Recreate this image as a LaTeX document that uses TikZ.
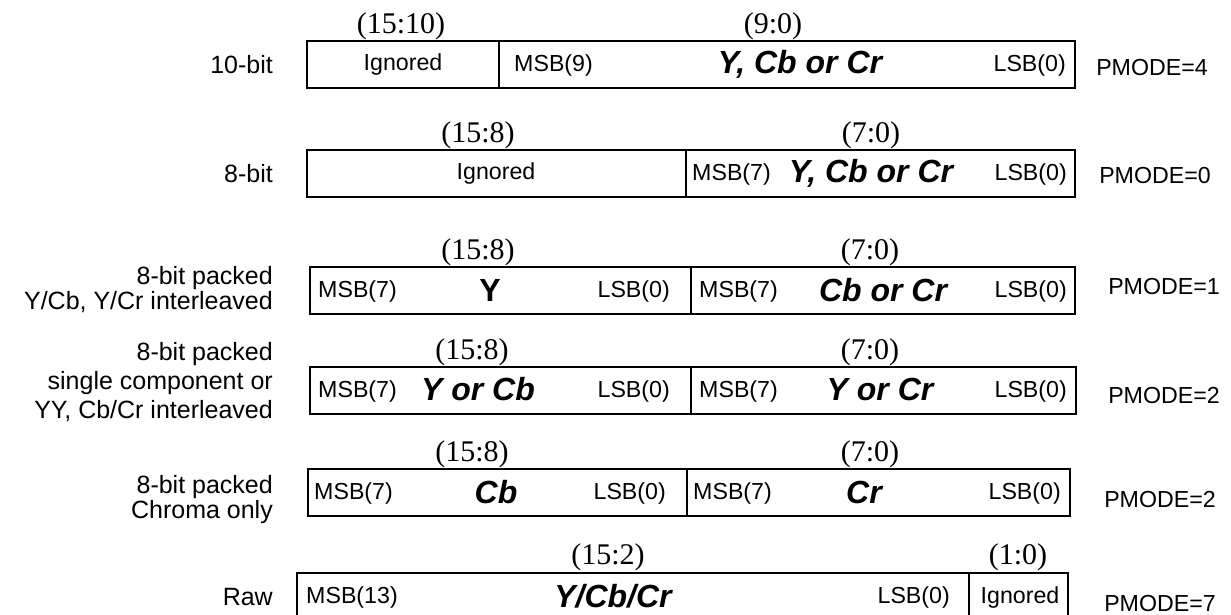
\documentclass[tikz,border=0pt]{standalone}
\usepackage{fontspec}
\setmainfont{Liberation Sans}
\newfontfamily\rngfont{Liberation Serif}
\begin{document}
\begin{tikzpicture}[x=1pt,y=-1pt,
  cell/.style={draw, line width=2pt, inner sep=0pt, outer sep=0pt, anchor=north west, minimum height=47pt},
  reg/.style={inner sep=0pt, font=\fontsize{23.2}{26}\selectfont},
  big/.style={inner sep=0pt, font=\fontsize{32}{34}\selectfont\bfseries\itshape},
  bigup/.style={inner sep=0pt, font=\fontsize{32}{34}\selectfont\bfseries},
  rng/.style={inner sep=0pt, anchor=south, font=\rngfont\fontsize{30}{32}\selectfont},
  lab/.style={inner sep=0pt, anchor=east, align=right, font=\fontsize{25}{25}\selectfont},
  labw/.style={inner sep=0pt, anchor=east, align=right, font=\fontsize{25}{29}\selectfont}
]
\useasboundingbox (0,0) rectangle (1231,615);
\clip (0,0) rectangle (1231,615);

% ---------- Row 1: 10-bit ----------
\node[lab] (l1) at (273,65) {10-bit};
\node[cell, minimum width=192pt] (a1) at (307,41) {};
\node[cell, minimum width=576pt] (a2) at (499,41) {};
\node[rng] (a1r) at (401,40) {(15:10)};
\node[rng] (a2r) at (773,40) {(9:0)};
\node[reg] (a1t) at (403,65) {Ignored};
\node[reg, anchor=west] (a2m) at (514,65) {MSB(9)};
\node[big] (a2t) at (800,64) {Y, Cb or Cr};
\node[reg, anchor=east] (a2l) at (1066,65) {LSB(0)};
\node[reg] (p1) at (1152,68) {PMODE=4};

% ---------- Row 2: 8-bit ----------
\node[lab] (l2) at (273,174) {8-bit};
\node[cell, minimum width=379pt] (b1) at (307,150) {};
\node[cell, minimum width=389pt] (b2) at (686,150) {};
\node[rng] (b1r) at (478,149) {(15:8)};
\node[rng] (b2r) at (871,149) {(7:0)};
\node[reg] (b1t) at (496,174) {Ignored};
\node[reg, anchor=west] (b2m) at (692,174) {MSB(7)};
\node[big] (b2t) at (871,173) {Y, Cb or Cr};
\node[reg, anchor=east] (b2l) at (1067,174) {LSB(0)};
\node[reg] (p2) at (1155,176) {PMODE=0};

% ---------- Row 3 ----------
\node[lab] (l3) at (273,290) {8-bit packed\\Y/Cb, Y/Cr interleaved};
\node[cell, minimum width=381pt] (c1) at (310,267) {};
\node[cell, minimum width=384pt] (c2) at (691,267) {};
\node[rng] (c1r) at (478,266) {(15:8)};
\node[rng] (c2r) at (870,266) {(7:0)};
\node[reg, anchor=west] (c1m) at (318,291) {MSB(7)};
\node[bigup] (c1t) at (490,290) {Y};
\node[reg, anchor=east] (c1l) at (670,291) {LSB(0)};
\node[reg, anchor=west] (c2m) at (699,291) {MSB(7)};
\node[big] (c2t) at (883,290) {Cb or Cr};
\node[reg, anchor=east] (c2l) at (1067,291) {LSB(0)};
\node[reg] (p3) at (1164,287) {PMODE=1};

% ---------- Row 4 ----------
\node[labw] (l4) at (273,382) {8-bit packed\\single component or\\YY, Cb/Cr interleaved};
\node[cell, minimum width=381pt] (d1) at (310,367) {};
\node[cell, minimum width=385pt] (d2) at (691,367) {};
\node[rng] (d1r) at (472,366) {(15:8)};
\node[rng] (d2r) at (870,366) {(7:0)};
\node[reg, anchor=west] (d1m) at (318,391) {MSB(7)};
\node[big] (d1t) at (478,389) {Y or Cb};
\node[reg, anchor=east] (d1l) at (670,391) {LSB(0)};
\node[reg, anchor=west] (d2m) at (699,391) {MSB(7)};
\node[big] (d2t) at (880,389) {Y or Cr};
\node[reg, anchor=east] (d2l) at (1067,391) {LSB(0)};
\node[reg] (p4) at (1164,396) {PMODE=2};

% ---------- Row 5 ----------
\node[lab] (l5) at (273,500) {8-bit packed\\Chroma only};
\node[cell, minimum width=379pt] (e1) at (308,469) {};
\node[cell, minimum width=383pt] (e2) at (687,469) {};
\node[rng] (e1r) at (472,468) {(15:8)};
\node[rng] (e2r) at (870,468) {(7:0)};
\node[reg, anchor=west] (e1m) at (314,493) {MSB(7)};
\node[big] (e1t) at (496,492) {Cb};
\node[reg, anchor=east] (e1l) at (666,493) {LSB(0)};
\node[reg, anchor=west] (e2m) at (693,493) {MSB(7)};
\node[big] (e2t) at (864,492) {Cr};
\node[reg, anchor=east] (e2l) at (1061,493) {LSB(0)};
\node[reg] (p5) at (1160,500) {PMODE=2};

% ---------- Row 6: Raw ----------
\node[lab] (l6) at (273,597) {Raw};
\node[cell, minimum width=672pt, minimum height=52pt] (f1) at (297,573) {};
\node[cell, minimum width=99pt, minimum height=52pt] (f2) at (969,573) {};
\node[rng] (f1r) at (608,571) {(15:2)};
\node[rng] (f2r) at (1018,571) {(1:0)};
\node[reg, anchor=west] (f1m) at (306,597) {MSB(13)};
\node[big] (f1t) at (613,596) {Y/Cb/Cr};
\node[reg, anchor=east] (f1l) at (950,597) {LSB(0)};
\node[reg] (f2t) at (1020,597) {Ignored};
\node[reg] (p6) at (1160,604) {PMODE=7};
\end{tikzpicture}
\end{document}
